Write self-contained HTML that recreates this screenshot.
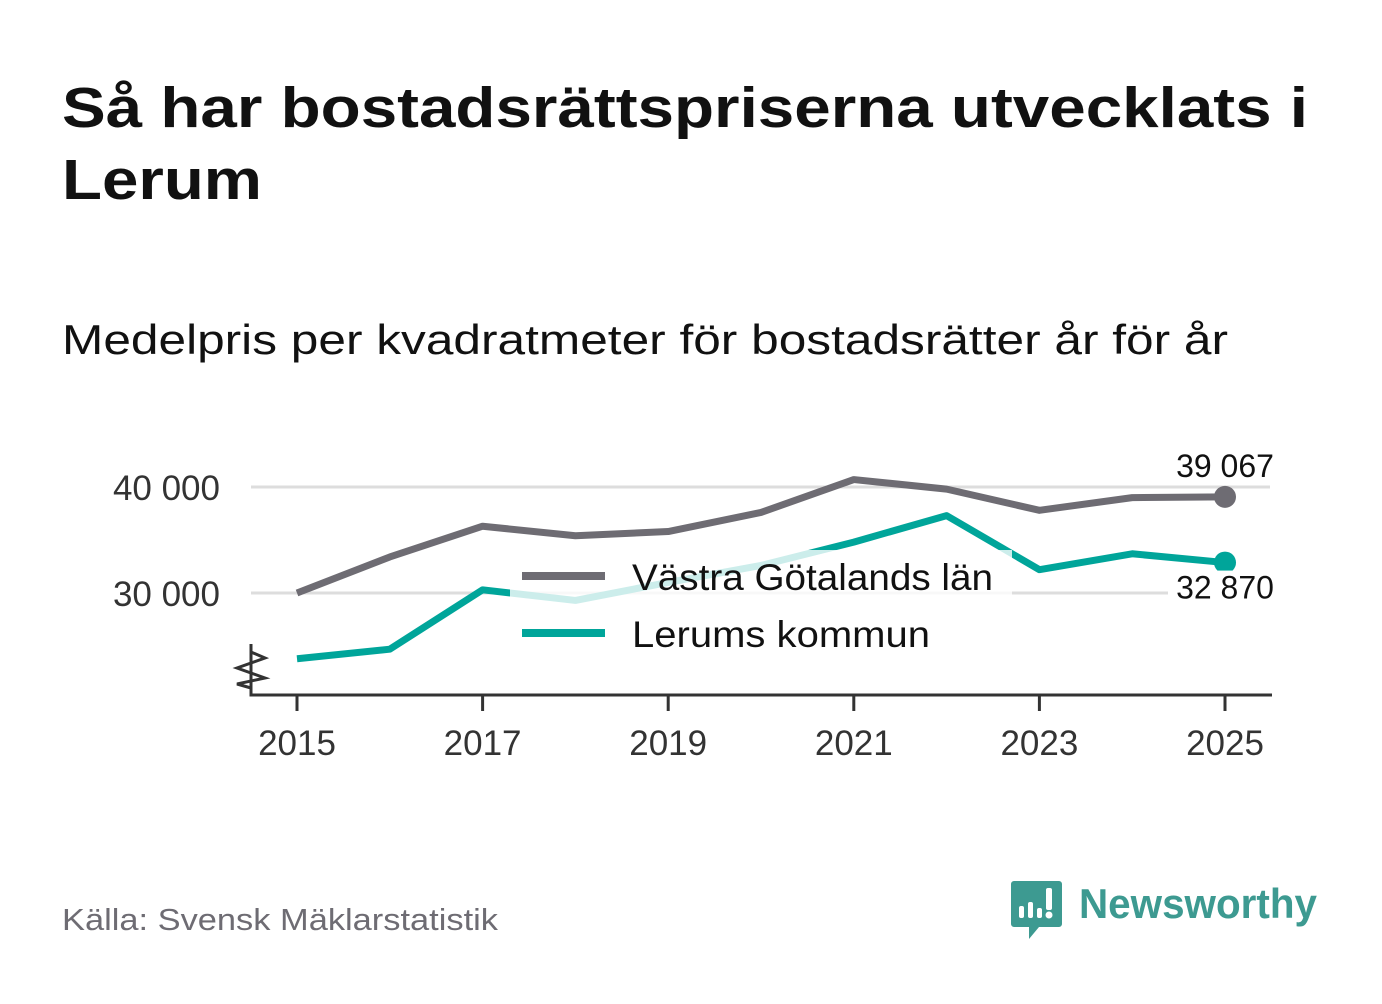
<!DOCTYPE html>
<html><head><meta charset="utf-8"><style>
body{margin:0;background:#fff;width:1382px;height:999px;overflow:hidden;font-family:"Liberation Sans","DejaVu Sans",sans-serif}
</style></head><body>
<svg width="1382" height="999" xmlns="http://www.w3.org/2000/svg">
<text x="62" y="127" font-size="57" font-weight="bold" fill="#111" textLength="1246" lengthAdjust="spacingAndGlyphs" font-family="Liberation Sans, sans-serif">Så har bostadsrättspriserna utvecklats i</text>
<text x="62" y="199" font-size="57" font-weight="bold" fill="#111" textLength="200" lengthAdjust="spacingAndGlyphs" font-family="Liberation Sans, sans-serif">Lerum</text>
<text x="62" y="354" font-size="42" fill="#111" textLength="1166" lengthAdjust="spacingAndGlyphs" font-family="Liberation Sans, sans-serif">Medelpris per kvadratmeter för bostadsrätter år för år</text>
<g id="grid"></g>
<g id="series"></g>
<rect x="510" y="550" width="502" height="110" fill="#fff" fill-opacity="0.8"/>
<g>
<line x1="522" y1="576" x2="605" y2="576" stroke="#6e6c73" stroke-width="8"/>
<text x="632" y="590" font-size="37" fill="#111" textLength="361" lengthAdjust="spacingAndGlyphs" font-family="Liberation Sans, sans-serif">Västra Götalands län</text>
<line x1="522" y1="633" x2="605" y2="633" stroke="#00a59a" stroke-width="8"/>
<text x="632" y="647" font-size="37" fill="#111" textLength="298" lengthAdjust="spacingAndGlyphs" font-family="Liberation Sans, sans-serif">Lerums kommun</text>
</g>
<g id="axes"></g>
<g id="labels"></g>
<text x="62" y="930" font-size="31" fill="#6e6c73" textLength="436" lengthAdjust="spacingAndGlyphs" font-family="Liberation Sans, sans-serif">Källa: Svensk Mäklarstatistik</text>
<g>
<path d="M1014 881 h45 a3 3 0 0 1 3 3 v40 a3 3 0 0 1 -3 3 h-20 l-10 12 v-12 h-15 a3 3 0 0 1 -3 -3 v-40 a3 3 0 0 1 3 -3z" fill="#3d9a91"/>
<rect x="1019" y="906" width="5" height="12" rx="2" fill="#fff"/>
<rect x="1028" y="902" width="5" height="16" rx="2" fill="#fff"/>
<rect x="1037" y="908" width="5" height="10" rx="2" fill="#fff"/>
<rect x="1046" y="888" width="6" height="22" rx="2" fill="#fff"/>
<circle cx="1049" cy="915" r="3.5" fill="#fff"/>
<text x="1079" y="918" font-size="42" font-weight="bold" fill="#3d9a91" textLength="238" lengthAdjust="spacingAndGlyphs" font-family="Liberation Sans, sans-serif">Newsworthy</text>
</g>
</svg>
<script>
const years=[2015,2016,2017,2018,2019,2020,2021,2022,2023,2024,2025];
const vastra=[30000,33400,36300,35400,35800,37600,40700,39800,37800,39000,39067];
const lerum=[23800,24700,30300,29300,31000,32600,34800,37300,32200,33700,32870];
const yTicks=[30000,40000];
const xTicks=[2015,2017,2019,2021,2023,2025];
const NS="http://www.w3.org/2000/svg";
const X=y=>297+(y-2015)*92.8;
const Y=v=>487-(v-40000)*0.0106;
function mk(tag,attrs,parent,txt){const e=document.createElementNS(NS,tag);for(const k in attrs)e.setAttribute(k,attrs[k]);if(txt!==undefined)e.textContent=txt;document.getElementById(parent).appendChild(e);return e;}
const fmt=v=>String(v).replace(/\B(?=(\d{3})+(?!\d))/g," ");
yTicks.forEach(t=>{
 const l=mk('line',{x1:251,x2:1270,y1:Y(t),y2:Y(t),stroke:'#ddd','stroke-width':3},'grid');
 
 
 const tx=mk('text',{x:220,y:Y(t)+13,'text-anchor':'end','font-size':35,fill:'#333','font-family':'Liberation Sans, sans-serif'},'grid',fmt(t));
 
 
});
function series(vals,color,name){
 const p=mk('polyline',{points:vals.map((v,i)=>X(years[i])+','+Y(v)).join(' '),fill:'none',stroke:color,'stroke-width':7,'stroke-linejoin':'round'},'series');
 
 
 const n=vals.length-1;
 const c=mk('circle',{cx:X(years[n]),cy:Y(vals[n]),r:11,fill:color},'labels');
 
 
}
series(vastra,'#6e6c73','vastra-gotaland');
series(lerum,'#00a59a','lerum');
const lv=vastra[vastra.length-1], ll=lerum[lerum.length-1];
const t1=mk('text',{x:1225,y:Y(lv)-20,'text-anchor':'middle','font-size':32,fill:'#111','font-family':'Liberation Sans, sans-serif'},'labels',fmt(lv));


const bg=mk('rect',{x:1168,y:Y(ll)+8,width:110,height:36,fill:'#fff'},'labels');


const t2=mk('text',{x:1225,y:Y(ll)+36,'text-anchor':'middle','font-size':32,fill:'#111','font-family':'Liberation Sans, sans-serif'},'labels',fmt(ll));


const ax=mk('path',{d:'M251 644 V695 H1272',fill:'none',stroke:'#333','stroke-width':3},'axes');


const zz=mk('path',{d:'M251 645 V652 L265 658 L237 668 L265 678 L237 684 L251 688',fill:'none',stroke:'#333','stroke-width':3},'axes');


xTicks.forEach(t=>{
 const l=mk('line',{x1:X(t),x2:X(t),y1:695,y2:711,stroke:'#333','stroke-width':3},'axes');
 
 
 const tx=mk('text',{x:X(t),y:755,'text-anchor':'middle','font-size':35,fill:'#333','font-family':'Liberation Sans, sans-serif'},'axes',String(t));
 
 
});
</script>
</body></html>
